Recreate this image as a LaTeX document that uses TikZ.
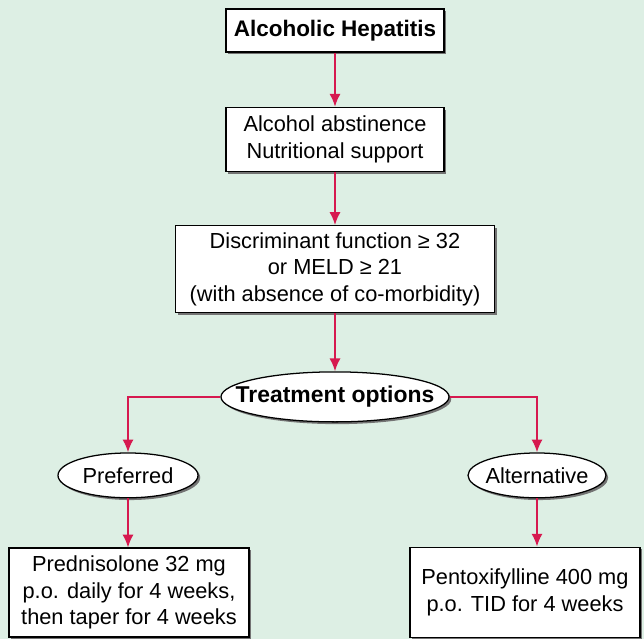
\documentclass[tikz,border=0pt]{standalone}
\usepackage{fontspec}
\setmainfont{Liberation Sans}
\usetikzlibrary{arrows.meta,positioning,shapes.geometric,shadows}
\definecolor{mint}{HTML}{DDEFE4}
\definecolor{crimson}{HTML}{D6194F}
\tikzset{
  stepbox/.style={draw=black,fill=white,line width=0.9pt,align=center,inner sep=2pt,
    font=\fontsize{15.5}{19}\selectfont,
    drop shadow={shadow xshift=1.6pt,shadow yshift=-1.6pt,fill=black!55,opacity=1}},
  choice/.style={ellipse,draw=black,fill=white,line width=0.9pt,align=center,
    inner xsep=-1cm,inner ysep=-0.15cm,
    font=\fontsize{15.5}{19}\selectfont,
    drop shadow={shadow xshift=1.6pt,shadow yshift=-1.6pt,fill=black!55,opacity=1}},
  arrow/.style={-{Latex[length=3.2mm,width=2.8mm]},draw=crimson,line width=1.4pt}
}
\begin{document}
\begin{tikzpicture}[node distance=1.35cm]
  \fill[mint] (0,0) rectangle (16.1,15.975);
  \useasboundingbox (0,0) rectangle (16.1,15.975);
  \node[stepbox,minimum width=5.45cm,minimum height=1.075cm,font=\fontsize{16}{19}\selectfont\bfseries] (hep) at (8.375,15.21) {Alcoholic Hepatitis};
  \node[stepbox,minimum width=5.45cm,minimum height=1.6cm,below=of hep] (supp) {Alcohol abstinence\\Nutritional support};
  \node[stepbox,minimum width=7.975cm,minimum height=2.175cm,below=1.325cm of supp] (disc) {Discriminant function ≥ 32\\or MELD ≥ 21\\(with absence of co-morbidity)};
  \node[choice,minimum width=5.7cm,minimum height=1.25cm,font=\fontsize{16.3}{19}\selectfont\bfseries,below=1.45cm of disc] (treat) {Treatment options};
  \node[choice,minimum width=3.5cm,minimum height=1.12cm] (pref) at (3.2,4.09) {Preferred};
  \node[choice,minimum width=3.45cm,minimum height=1.12cm] (alt) at (13.425,4.09) {Alternative};
  \node[stepbox,minimum width=6.0cm,minimum height=2.225cm] (pred) at (3.225,1.16) {Prednisolone 32 mg\\p.o. daily for 4 weeks,\\then taper for 4 weeks};
  \node[stepbox,minimum width=5.75cm,minimum height=2.25cm] (pent) at (13.125,1.17) {Pentoxifylline 400 mg\\p.o. TID for 4 weeks};
  \draw[arrow] (hep) -- (supp);
  \draw[arrow] (supp) -- (disc);
  \draw[arrow] (disc) -- (treat);
  \draw[arrow] (treat.west) -| (pref.north);
  \draw[arrow] (treat.east) -| (alt.north);
  \draw[arrow] (pref.south) -- (pref.south |- pred.north);
  \draw[arrow] (alt.south) -- (alt.south |- pent.north);
\end{tikzpicture}
\end{document}
